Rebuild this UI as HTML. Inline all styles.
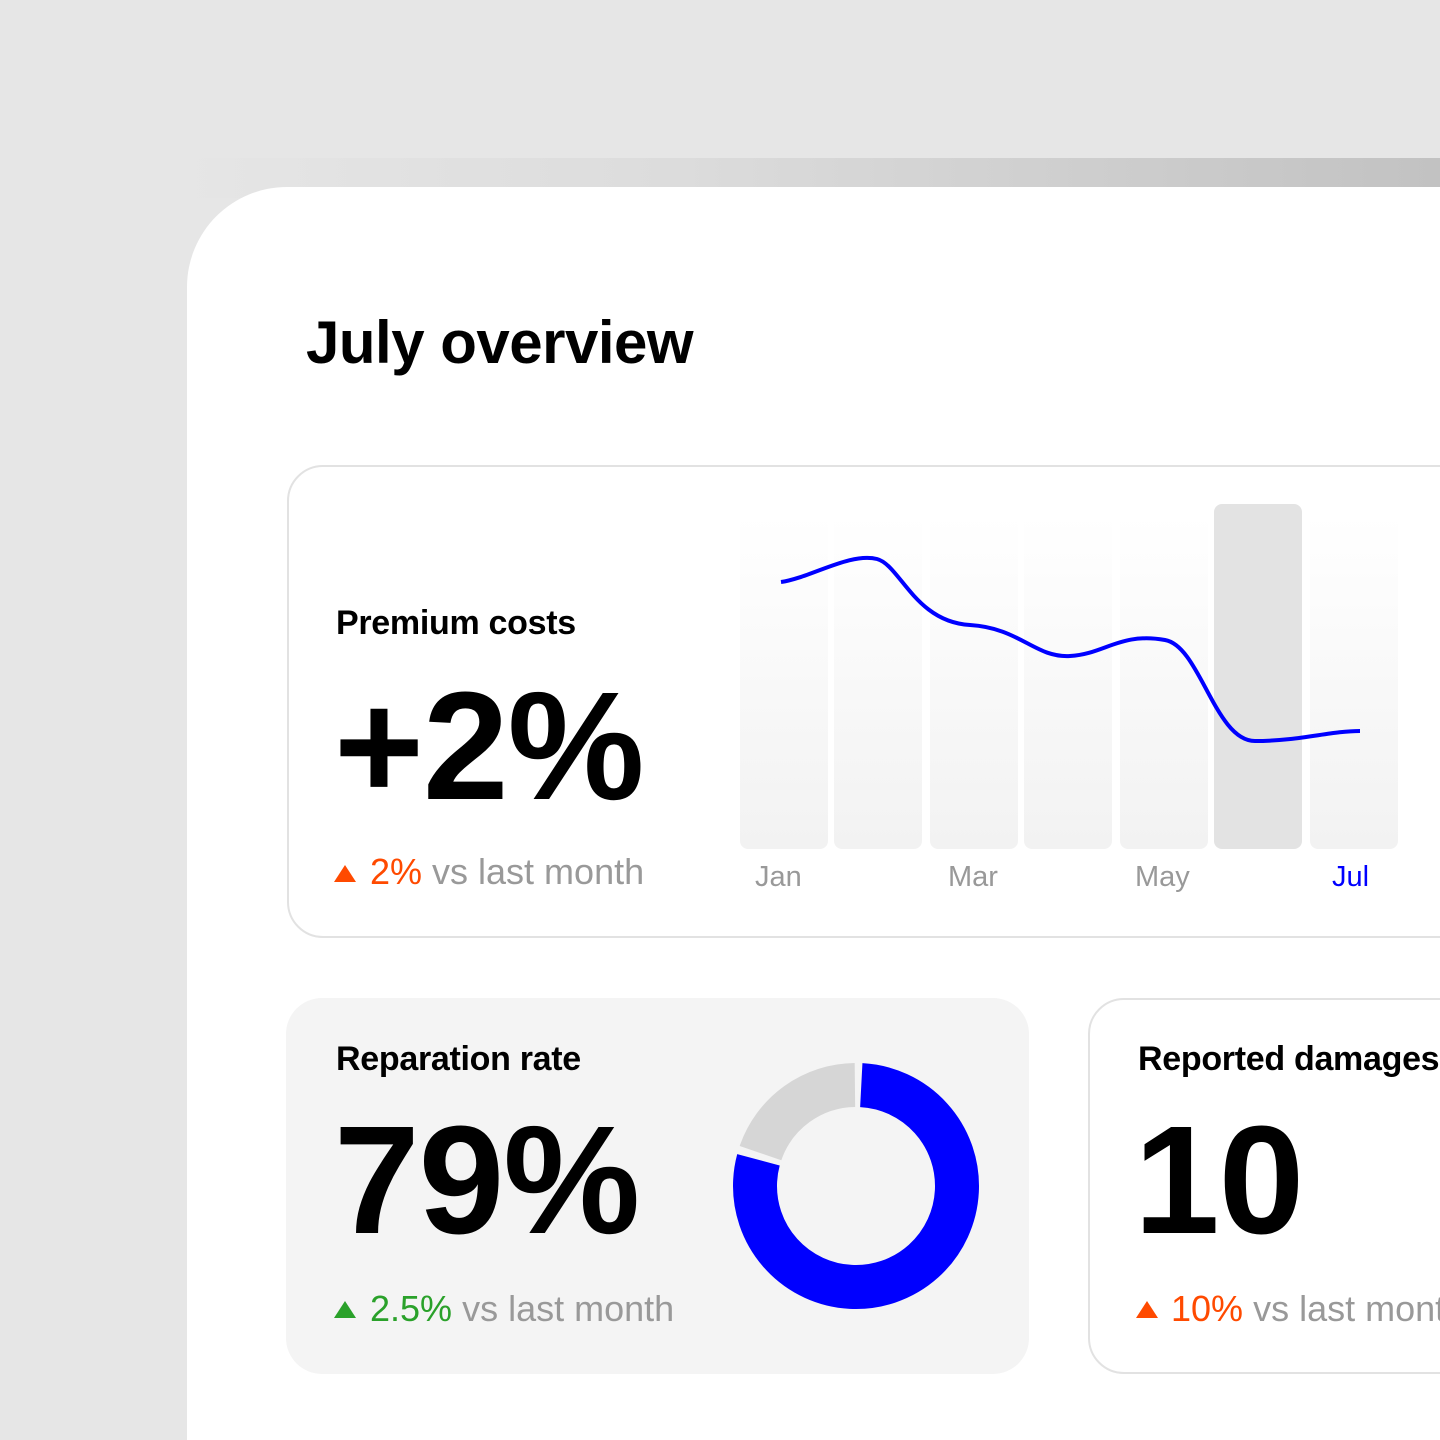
<!DOCTYPE html>
<html><head><meta charset="utf-8"><style>
html,body{margin:0;width:1440px;height:1440px;overflow:hidden}
body{background:#e6e6e6;font-family:"Liberation Sans",sans-serif;position:relative}
.band{position:absolute;left:170px;top:158px;width:1270px;height:40px;background:linear-gradient(90deg,#e6e6e6,#dcdcdc 40%,#c2c2c2)}
.panel{position:absolute;left:187px;top:187px;width:1253px;height:1253px;background:#fff;border-radius:100px 0 0 0}
.abs{position:absolute}
.card{position:absolute;box-sizing:border-box;border-radius:36px}
.t{position:absolute;white-space:nowrap;color:#000}
.wrap{position:absolute;left:0;top:0;width:1440px;height:1440px;overflow:hidden}
</style></head><body><div class="wrap">
<div class="band"></div>
<div class="panel"></div>
<div class="t" style="left:306px;top:308px;font-size:60px;font-weight:bold;letter-spacing:-0.5px">July overview</div>
<div class="card" style="left:287px;top:465px;width:1200px;height:473px;border:2px solid #e2e2e2"></div>
<div class="t" style="left:336px;top:604px;font-size:34px;font-weight:bold;letter-spacing:-0.3px">Premium costs</div>
<div class="t" style="left:334px;top:658px;font-size:154px;letter-spacing:-1px;font-weight:bold">+2%</div>
<svg class="abs" style="left:333px;top:864px" width="26" height="20"><polygon points="12,1 23,18 1,18" fill="#ff4a00"/></svg>
<div class="t" style="left:370px;top:851px;font-size:36px;color:#ff4a00">2%<span style="color:#999"> vs last month</span></div>
<svg class="abs" style="left:0;top:0" width="1440" height="1440">
<defs><linearGradient id="g" x1="0" y1="0" x2="0" y2="1"><stop offset="0" stop-color="#fff"/><stop offset="1" stop-color="#f2f2f2"/></linearGradient></defs>
<rect x="740" y="515" width="88" height="334" rx="8" fill="url(#g)"/>
<rect x="834" y="515" width="88" height="334" rx="8" fill="url(#g)"/>
<rect x="930" y="515" width="88" height="334" rx="8" fill="url(#g)"/>
<rect x="1024" y="515" width="88" height="334" rx="8" fill="url(#g)"/>
<rect x="1120" y="515" width="88" height="334" rx="8" fill="url(#g)"/>
<rect x="1214" y="504" width="88" height="345" rx="8" fill="#e3e3e3"/>
<rect x="1310" y="515" width="88" height="334" rx="8" fill="url(#g)"/>
<path d="M781,582 C810,578 850,552 877,559 C900,565 915,622 970,625 C1020,628 1035,658 1070,656 C1105,654 1120,632 1165,640 C1200,646 1215,741 1255,741 C1300,741 1330,731 1360,731" fill="none" stroke="#0000ff" stroke-width="4"/>
</svg>
<div class="t" style="left:755px;top:861px;font-size:29px;color:#999">Jan</div>
<div class="t" style="left:948px;top:861px;font-size:29px;color:#999">Mar</div>
<div class="t" style="left:1135px;top:861px;font-size:29px;color:#999">May</div>
<div class="t" style="left:1332px;top:861px;font-size:29px;color:#0000ff">Jul</div>

<div class="card" style="left:286px;top:998px;width:743px;height:376px;background:#f4f4f4"></div>
<div class="t" style="left:336px;top:1040px;font-size:34px;font-weight:bold;letter-spacing:-0.3px">Reparation rate</div>
<div class="t" style="left:334px;top:1092px;font-size:154px;letter-spacing:-1px;font-weight:bold">79%</div>
<svg class="abs" style="left:333px;top:1300px" width="26" height="20"><polygon points="12,1 23,18 1,18" fill="#2aa12a"/></svg>
<div class="t" style="left:370px;top:1288px;font-size:36px;color:#2aa12a">2.5%<span style="color:#999"> vs last month</span></div>
<svg class="abs" style="left:720px;top:1050px" width="280" height="280">
<circle cx="136" cy="136" r="101" fill="none" stroke="#d6d6d6" stroke-width="44" stroke-dasharray="124 600" transform="rotate(199 136 136)"/>
<circle cx="136" cy="136" r="101" fill="none" stroke="#0000ff" stroke-width="44" stroke-dasharray="497 200" transform="rotate(-87 136 136)"/>
</svg>

<div class="card" style="left:1088px;top:998px;width:500px;height:376px;border:2px solid #e2e2e2"></div>
<div class="t" style="left:1138px;top:1040px;font-size:34px;font-weight:bold;letter-spacing:-0.3px">Reported damages</div>
<div class="t" style="left:1134px;top:1092px;font-size:154px;letter-spacing:-1px;font-weight:bold">10</div>
<svg class="abs" style="left:1135px;top:1300px" width="26" height="20"><polygon points="12,1 23,18 1,18" fill="#ff4a00"/></svg>
<div class="t" style="left:1171px;top:1288px;font-size:36px;color:#ff4a00">10%<span style="color:#999"> vs last month</span></div>
</div></body></html>
